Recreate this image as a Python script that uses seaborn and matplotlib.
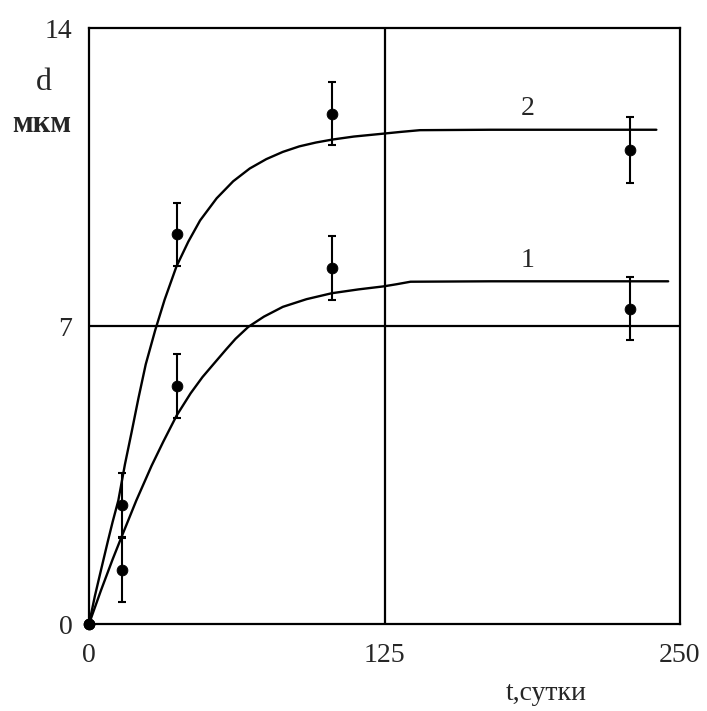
import matplotlib
matplotlib.use("Agg")
import matplotlib.pyplot as plt
import seaborn as sns
import pandas as pd

# fitted curves
curve2_t = [0, 2.5, 5, 8, 10, 12.4, 15.2, 18, 20.9, 24, 28, 32, 37, 42, 47, 54, 61, 68, 75, 82, 89, 96, 103, 112, 123, 132, 140, 170, 200, 240]
curve2_d = [0, 0.66, 1.25, 1.95, 2.4, 2.9, 3.75, 4.5, 5.3, 6.1, 6.9, 7.62, 8.4, 8.98, 9.48, 10.0, 10.4, 10.7, 10.92, 11.09, 11.22, 11.31, 11.38, 11.45, 11.51, 11.56, 11.6, 11.61, 11.61, 11.61]
curve1_t = [0, 5, 10, 13.8, 20, 26.5, 31.4, 37.1, 43, 48, 52.6, 58, 62, 67.4, 74, 82, 92, 102.7, 114, 124.5, 130, 136, 170, 210, 245]
curve1_d = [0, 0.78, 1.52, 2.05, 2.9, 3.72, 4.28, 4.9, 5.42, 5.8, 6.1, 6.45, 6.7, 6.98, 7.22, 7.45, 7.63, 7.77, 7.86, 7.93, 7.98, 8.04, 8.05, 8.05, 8.05]

# measured points
pts_t = [0, 13.8, 37.1, 102.7, 228.8]
pts2_d = [0, 2.79, 9.15, 11.99, 11.13]
pts2_err = [0, 0.75, 0.75, 0.75, 0.77]
pts1_d = [0, 1.27, 5.59, 8.37, 7.41]
pts1_err = [0, 0.75, 0.75, 0.75, 0.75]

curve_labels = ["2", "1"]
x_ticks = [0, 125, 250]
y_ticks = [0, 7, 14]

sns.set_style("white")
plt.rcParams['font.family'] = ['Liberation Serif', 'DejaVu Serif']

fig = plt.figure(figsize=(7.07, 7.11), dpi=100)
ax = fig.add_axes([89/707, 1 - 624/711, (680-89)/707, (624-28)/711])

df2 = pd.DataFrame({"t": curve2_t, "d": curve2_d})
df1 = pd.DataFrame({"t": curve1_t, "d": curve1_d})
sns.lineplot(data=df2, x="t", y="d", ax=ax, color="black", lw=1.7, estimator=None, sort=False)
sns.lineplot(data=df1, x="t", y="d", ax=ax, color="black", lw=1.7, estimator=None, sort=False)

ax.axvline(125, color="black", lw=1.6)
ax.axhline(7, color="black", lw=1.6)

for d, e in [(pts2_d, pts2_err), (pts1_d, pts1_err)]:
    ax.errorbar(pts_t, d, yerr=e, fmt="none", ecolor="black", elinewidth=1.5, capsize=2.6, capthick=1.5)
    dfp = pd.DataFrame({"t": pts_t, "d": d})
    sns.scatterplot(data=dfp, x="t", y="d", ax=ax, color="black", s=60, edgecolor="black", zorder=5, clip_on=False)

ax.text(185.7, 12.1, curve_labels[0], fontsize=20, ha="center", va="center")
ax.text(185.7, 8.54, curve_labels[1], fontsize=20, ha="center", va="center")

ax.set_xlim(0, 250)
ax.set_ylim(0, 14)
ax.set_xticks(x_ticks)
ax.set_yticks(y_ticks)
ax.set_xticklabels([str(v) for v in x_ticks])
ax.set_yticklabels([str(v) for v in y_ticks])
ax.tick_params(axis="both", length=0, labelsize=20)
ax.tick_params(axis="y", pad=12)
ax.tick_params(axis="x", pad=14)
ax.set_xlabel("")
ax.set_ylabel("")
for s in ax.spines.values():
    s.set_color("black")
    s.set_linewidth(1.6)

fig.text(44/707, 1 - 82/711, "d", fontsize=23, ha="center", va="center")
fig.text(42/707, 1 - 124/711, "мкм", fontsize=22, ha="center", va="center", fontweight="bold")
fig.text(546/707, 1 - 693/711, "t,сутки", fontsize=20, ha="center", va="center")

fig.savefig("out.png", dpi=100)
